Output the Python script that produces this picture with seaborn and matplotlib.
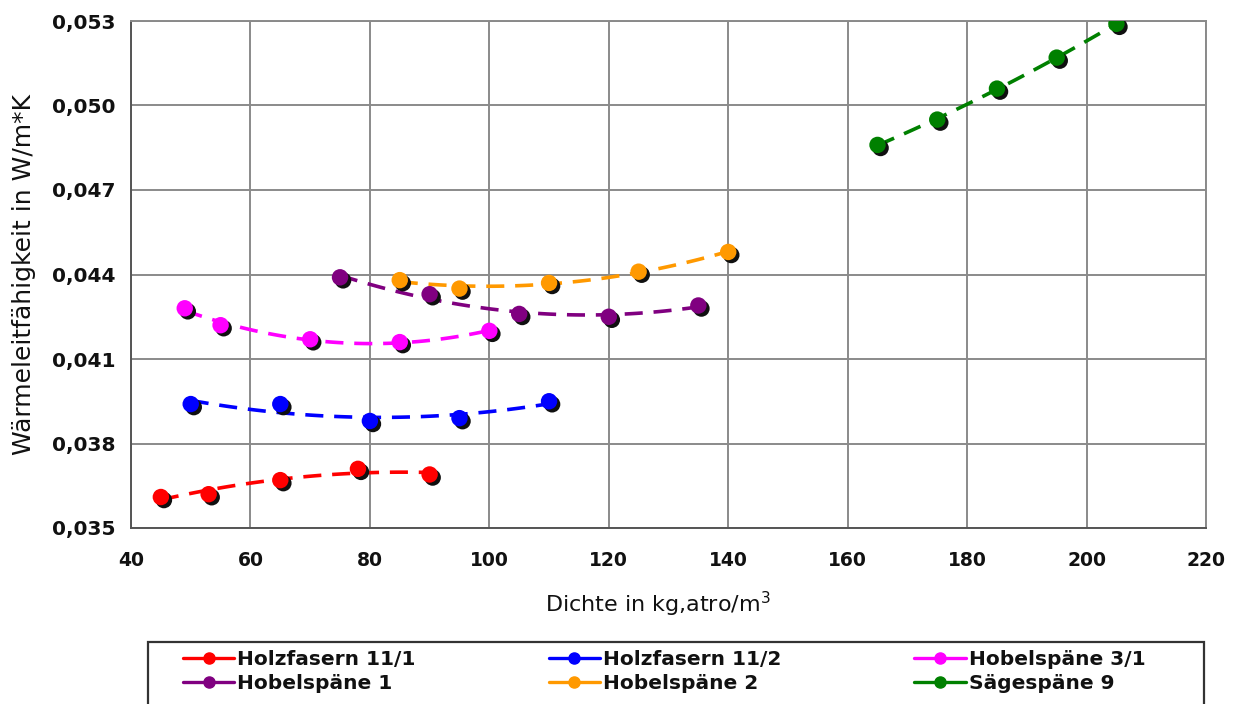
import numpy as np
import pandas as pd
import matplotlib
matplotlib.use("Agg")
import matplotlib.pyplot as plt
import matplotlib.patheffects as pe
from matplotlib.lines import Line2D
from matplotlib.patches import Rectangle
from matplotlib.ticker import FuncFormatter
import seaborn as sns

# ---- data ----
series_names = ["Holzfasern 11/1", "Holzfasern 11/2", "Hobelspäne 3/1",
                "Hobelspäne 1", "Hobelspäne 2", "Sägespäne 9"]
colors = ["#FF0000", "#0000FF", "#FF00FF", "#800080", "#FF9900", "#008000"]

x_holz111 = [45, 53, 65, 78, 90]
y_holz111 = [0.0361, 0.0362, 0.0367, 0.0371, 0.0369]
x_holz112 = [50, 65, 80, 95, 110]
y_holz112 = [0.0394, 0.0394, 0.0388, 0.0389, 0.0395]
x_hob31 = [49, 55, 70, 85, 100]
y_hob31 = [0.0428, 0.0422, 0.0417, 0.0416, 0.0420]
x_hob1 = [75, 90, 105, 120, 135]
y_hob1 = [0.0439, 0.0433, 0.0426, 0.0425, 0.0429]
x_hob2 = [85, 95, 110, 125, 140]
y_hob2 = [0.0438, 0.0435, 0.0437, 0.0441, 0.0448]
x_saeg9 = [165, 175, 185, 195, 205]
y_saeg9 = [0.0486, 0.0495, 0.0506, 0.0517, 0.0529]

xs = [x_holz111, x_holz112, x_hob31, x_hob1, x_hob2, x_saeg9]
ys = [y_holz111, y_holz112, y_hob31, y_hob1, y_hob2, y_saeg9]

x_ticks = list(range(40, 221, 20))
y_ticks = [0.035, 0.038, 0.041, 0.044, 0.047, 0.050, 0.053]

x_label = "Dichte in kg,atro/m$^3$"
y_label = "Wärmeleitfähigkeit in W/m*K"

# ---- style ----
sns.set_theme(style="white")
plt.rcParams["font.family"] = ["DejaVu Sans"]
plt.rcParams["mathtext.default"] = "regular"

W, H = 1239, 704
fig = plt.figure(figsize=(W / 100, H / 100), dpi=100)
ax = fig.add_axes([131 / W, 1 - 528 / H, (1206 - 131) / W, (528 - 21) / H])

grid_c = "#8a8a8a"
axis_c = "#555555"
for name, c, xv, yv in zip(series_names, colors, xs, ys):
    df = pd.DataFrame({"x": xv, "y": yv})
    sns.regplot(data=df, x="x", y="y", order=2, ci=None, scatter=False, ax=ax,
                truncate=True,
                line_kws=dict(color=c, lw=2.6, linestyle=(0, (5, 3)), zorder=3))
    sns.scatterplot(data=df, x="x", y="y", ax=ax, color=c, s=140,
                    edgecolor="none", zorder=4, legend=False)
    coll = ax.collections[-1]
    coll.set_path_effects([pe.SimplePatchShadow(offset=(2.2, -2.2),
                                                shadow_rgbFace="#101010", alpha=1.0),
                           pe.Normal()])

ax.set_xlim(40, 220)
ax.set_ylim(0.035, 0.053)
ax.set_xticks(x_ticks)
ax.set_yticks(y_ticks)
ax.yaxis.set_major_formatter(FuncFormatter(lambda v, p: f"{v:.3f}".replace(".", ",")))
ax.grid(True, color=grid_c, lw=1.4)
ax.set_axisbelow(True)
for s in ax.spines.values():
    s.set_color(grid_c)
    s.set_linewidth(1.4)
ax.spines["left"].set_color(axis_c)
ax.spines["bottom"].set_color(axis_c)
ax.tick_params(axis="y", direction="inout", length=10, width=1.2, color=axis_c,
               labelsize=14.5, pad=6.5)
ax.tick_params(axis="x", direction="out", length=4.5, width=1.2, color=axis_c,
               labelsize=13.5, pad=12)
for lab in ax.get_xticklabels() + ax.get_yticklabels():
    lab.set_fontweight("bold")
    lab.set_color("#111111")
ax.set_xlabel(x_label, fontsize=16, color="#111111")
ax.set_ylabel(y_label, fontsize=18, color="#111111")
ax.xaxis.set_label_coords(0.49, -0.122)
ax.yaxis.set_label_coords(-0.088, 0.5)

# legend: frame drawn as figure rectangle, entries placed inside it
fig.patches.append(Rectangle((148 / W, -0.05), (1204 - 148) / W, (1 - 642 / H) + 0.05,
                             transform=fig.transFigure, fill=False,
                             edgecolor="#333333", lw=1.6, zorder=5))
handles = [Line2D([0], [0], color=c, lw=2.4, marker="o", markersize=8) for c in colors]
order = [0, 3, 1, 4, 2, 5]
leg = fig.legend([handles[i] for i in order], [series_names[i] for i in order],
                 loc="upper left", bbox_to_anchor=(183 / W, 1 - 650 / H),
                 ncol=3, frameon=False,
                 prop=dict(size=14.5, weight="bold"), handlelength=2.55,
                 handletextpad=0.15, borderaxespad=0, borderpad=0,
                 labelspacing=0.25, columnspacing=6.6)
for t in leg.get_texts():
    t.set_color("#111111")

fig.savefig("out.png", dpi=100)
